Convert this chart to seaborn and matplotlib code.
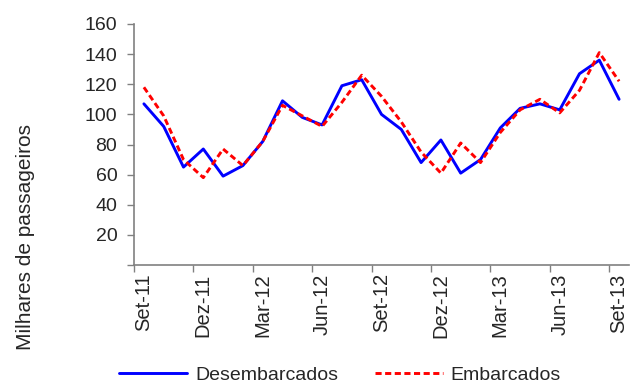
import matplotlib
matplotlib.use("Agg")
import matplotlib.pyplot as plt
import seaborn as sns
import numpy as np
import pandas as pd

months = ["Set-11", "Out-11", "Nov-11", "Dez-11", "Jan-12", "Fev-12", "Mar-12", "Abr-12",
          "Mai-12", "Jun-12", "Jul-12", "Ago-12", "Set-12", "Out-12", "Nov-12", "Dez-12",
          "Jan-13", "Fev-13", "Mar-13", "Abr-13", "Mai-13", "Jun-13", "Jul-13", "Ago-13", "Set-13"]
desembarcados = [107, 92, 65, 77, 59, 66, 82, 109, 98, 93, 119, 123, 100, 90, 68, 83,
                 61, 70, 91, 104, 107, 103, 127, 136, 110]
embarcados = [118, 99, 70, 58, 77, 66, 82, 106, 99, 92, 108, 126, 112, 95, 75, 61,
              81, 68, 88, 103, 110, 101, 116, 141, 122]
yticks = [0, 20, 40, 60, 80, 100, 120, 140, 160]

sns.set_theme(style="white")
plt.rcParams['font.family'] = ['Liberation Sans', 'DejaVu Sans']

fig = plt.figure(figsize=(6.3, 3.85), dpi=100)
ax = fig.add_axes([134/630, 1-265/385, (629-134)/630, (265-24)/385])

idx = np.arange(len(months))
df = pd.DataFrame({"i": np.concatenate([idx, idx]),
                   "v": desembarcados + embarcados,
                   "s": ["Desembarcados"]*len(months) + ["Embarcados"]*len(months)})
sns.lineplot(data=df[df.s == "Desembarcados"], x="i", y="v", ax=ax, color="#0000FF",
             lw=2.1, label="Desembarcados", legend=False)
sns.lineplot(data=df[df.s == "Embarcados"], x="i", y="v", ax=ax, color="#FF0000",
             lw=2.1, label="Embarcados", legend=False, dashes=False, linestyle=(0, (2.1, 1.2)))

ax.set_xlim(-0.5, len(months) - 0.5)
ax.set_ylim(0, 160)
ax.set_yticks(yticks)
ax.set_yticklabels([""] + [str(t) for t in yticks[1:]], fontsize=14)
ax.set_xticks(idx[::3])
ax.set_xticklabels(months[::3], rotation=90, fontsize=14.5)
ax.set_xticks(np.arange(-0.5, len(months) - 0.5, 3), minor=True)
ax.tick_params(axis='x', which='major', length=0, pad=6)
ax.tick_params(axis='x', which='minor', length=5, width=1, color="#808080", bottom=True, direction='out')
ax.tick_params(axis='y', which='major', length=5, width=1, color="#808080", left=True, direction='out', pad=7)
ax.set_xlabel("")
ax.set_ylabel("")
for s in ["top", "right"]:
    ax.spines[s].set_visible(False)
for s in ["left", "bottom"]:
    ax.spines[s].set_color("#808080")
    ax.spines[s].set_linewidth(1.2)

fig.text(26/630, 1-237/385, "Milhares de passageiros", rotation=90, ha="center", va="center", fontsize=15)

handles, labels = ax.get_legend_handles_labels()
fig.legend(handles, labels, loc="center", bbox_to_anchor=(340/630, 1-375/385), ncol=2,
           frameon=False, fontsize=14, handlelength=3.5, columnspacing=1.9, handletextpad=0.4)

fig.savefig("out.png", dpi=100)
